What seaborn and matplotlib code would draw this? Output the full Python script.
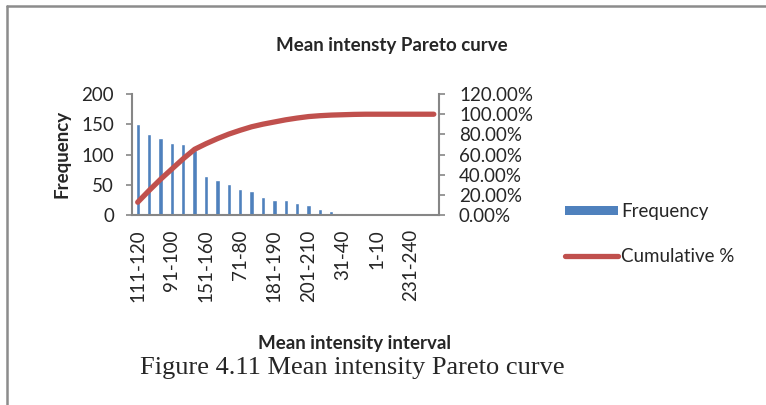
import numpy as np
import pandas as pd
import matplotlib
matplotlib.use("Agg")
import matplotlib.pyplot as plt
import seaborn as sns
from matplotlib.lines import Line2D
from matplotlib.patches import Patch
from matplotlib.ticker import FixedLocator, FuncFormatter

# ---- data ----
intervals = ["111-120", "101-110", "121-130", "91-100", "131-140", "81-90",
             "151-160", "141-150", "161-170", "71-80", "61-70", "171-180",
             "181-190", "51-60", "191-200", "201-210", "41-50", "211-220",
             "31-40", "21-30", "221-230", "1-10", "11-20", "241-250",
             "231-240", "251-260", "More"]
frequency = [150, 134, 128, 119, 118, 108, 64, 58, 52, 44, 40, 30, 25, 25,
             20, 17, 10, 7, 4, 4, 2, 0, 0, 0, 0, 0, 0]
left_ticks = [0, 50, 100, 150, 200]
right_ticks = [0, 20, 40, 60, 80, 100, 120]
title = "Mean intensty Pareto curve"
xlabel = "Mean intensity interval"
ylabel = "Frequency"
caption = "Figure 4.11 Mean intensity Pareto curve"

df = pd.DataFrame({"interval": intervals, "frequency": frequency})
df["pos"] = np.arange(len(df))
df["cumulative"] = df["frequency"].cumsum() / df["frequency"].sum() * 100

sns.set_theme(style="white")
plt.rcParams["font.family"] = ["Lato", "DejaVu Sans"]

BLUE = "#4F81BD"
RED = "#C0504D"
GRAY = "#868686"
FS = 13.5

W, H = 766, 405
fig = plt.figure(figsize=(W / 100, H / 100), dpi=100)
ax = fig.add_axes([132 / W, 1 - 215.3 / H, (439.5 - 132) / W, (215.3 - 94) / H])

sns.barplot(data=df, x="interval", y="frequency", color=BLUE, width=0.38,
            saturation=1, ax=ax)
ax.set_xlim(-0.5, len(df) - 0.5)
ax.set_ylim(0, 200)
ax.yaxis.set_major_locator(FixedLocator(left_ticks))
ax.set_yticklabels([str(t) for t in left_ticks], fontsize=FS)

n = len(df)
ax.set_xticks(list(range(0, n, 3)))
ax.set_xticklabels(intervals[::3], rotation=90, fontsize=FS)
ax.set_xticks(np.arange(-0.5, n, 1.0), minor=True)
ax.tick_params(axis="x", which="major", length=0, pad=10)
ax.tick_params(axis="x", which="minor", length=5, width=1.2, color=GRAY, direction="out")
ax.tick_params(axis="y", length=4, width=1.2, color=GRAY, direction="out", pad=9)
ax.set_xlabel("")
ax.set_ylabel("")
for s in ["top", "right"]:
    ax.spines[s].set_visible(False)
for s in ["left", "bottom"]:
    ax.spines[s].set_color(GRAY)
    ax.spines[s].set_linewidth(1.5)

ax2 = ax.twinx()
sns.lineplot(data=df, x="pos", y="cumulative", color=RED, linewidth=3.8,
             ax=ax2, solid_capstyle="round", solid_joinstyle="round")
ax2.set_ylim(0, 120)
ax2.yaxis.set_major_locator(FixedLocator(right_ticks))
ax2.yaxis.set_major_formatter(FuncFormatter(lambda v, p: f"{v:.2f}%"))
ax2.tick_params(axis="y", length=4, width=1.2, color=GRAY, direction="out", pad=10, labelsize=FS)
ax2.set_ylabel("")
ax2.set_xlabel("")
ax2.set_xlim(-0.5, n - 0.5)
for s in ["top", "left", "bottom"]:
    ax2.spines[s].set_visible(False)
ax2.spines["right"].set_color(GRAY)
ax2.spines["right"].set_linewidth(1.5)
ax2.grid(False)
ax.grid(False)

# titles
fig.text(392 / W, 1 - 45 / H, title, ha="center", va="center", fontsize=FS, fontweight="bold")
fig.text(355 / W, 1 - 343 / H, xlabel, ha="center", va="center", fontsize=FS, fontweight="bold")
fig.text(62 / W, 1 - 154 / H, ylabel, ha="center", va="center", rotation=90, fontsize=FS, fontweight="bold")
fig.text(352 / W, 1 - 368 / H, caption, ha="center", va="center", fontsize=19,
         family=["Liberation Serif", "DejaVu Serif"])

# legend
handles = [Patch(facecolor=BLUE, edgecolor="none"),
           Line2D([0], [0], color=RED, linewidth=3.8, solid_capstyle="round")]
fig.legend(handles, ["Frequency", "Cumulative %"], loc="upper left",
           bbox_to_anchor=(565 / W, 1 - 203 / H), frameon=False, fontsize=FS,
           handlelength=2.8, handleheight=0.4, handletextpad=0.2, labelspacing=1.5,
           borderpad=0, borderaxespad=0)

# outer frame
fig.add_artist(Line2D([6.5 / W, 1], [1 - 5.5 / H, 1 - 5.5 / H], transform=fig.transFigure, color="#8c8c8c", linewidth=1.8))
fig.add_artist(Line2D([6.5 / W, 6.5 / W], [0, 1 - 5.5 / H], transform=fig.transFigure, color="#8c8c8c", linewidth=1.8))

fig.savefig("out.png", dpi=100)
